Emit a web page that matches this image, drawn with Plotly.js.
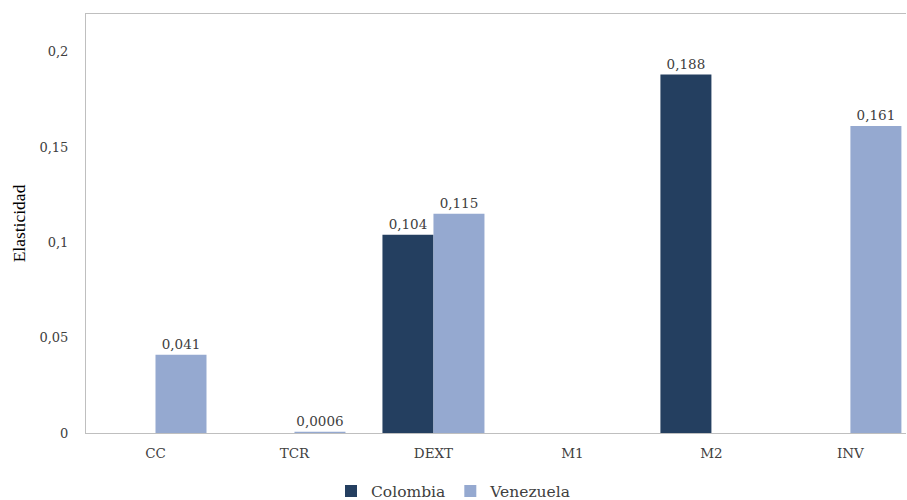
<!DOCTYPE html>
<html><head><meta charset="utf-8">
<script src="https://cdn.plot.ly/plotly-3.0.1.min.js"></script>
<style>html,body{margin:0;padding:0;overflow:hidden;background:#fff}</style>
</head><body>
<div id="chart" style="width:907px;height:500px"></div>
<script>
const categories = ["CC", "TCR", "DEXT", "M1", "M2", "INV"];
const colombia = [0, 0, 0.104, 0, 0.188, 0];
const venezuela = [0.041, 0.0006, 0.115, 0, 0, 0.161];
const seriesNames = ["Colombia", "Venezuela"];

function lbl(arr){ return arr.map(v => v > 0 ? String(v).replace('.', ',') : ''); }
const serif = "'DejaVu Serif', serif";
const times = "'Liberation Serif', serif";

const traces = [
  {type:'bar', name:seriesNames[0], x:categories, y:colombia, text:lbl(colombia),
   textposition:'outside', cliponaxis:false, marker:{color:'#243F60'},
   textfont:{family:serif, size:13.5, color:'#404040'}},
  {type:'bar', name:seriesNames[1], x:categories, y:venezuela, text:lbl(venezuela),
   textposition:'outside', cliponaxis:false, marker:{color:'#95A9D0'},
   textfont:{family:serif, size:13.5, color:'#404040'}}
];
const layout = {
  width:907, height:500,
  margin:{l:86, r:1, t:14, b:67},
  separators:', ',
  barmode:'group', bargap:0.266, bargroupgap:0,
  font:{family:serif, size:13, color:'#404040'},
  paper_bgcolor:'#fff', plot_bgcolor:'#fff',
  xaxis:{type:'category', range:[-0.5, 5.4], showline:true, mirror:true, linecolor:'#BFBFBF', linewidth:1,
         showgrid:false, zeroline:false, ticks:'outside', ticklen:8, tickcolor:'rgba(0,0,0,0)',
         tickfont:{family:serif, size:13.5, color:'#404040'}, automargin:false},
  yaxis:{range:[0, 0.2198], tickvals:[0,0.05,0.1,0.15,0.2], showline:true, linecolor:'#BFBFBF', linewidth:1,
         showgrid:false, zeroline:false, ticks:'outside', ticklen:14, tickcolor:'rgba(0,0,0,0)',
         tickfont:{family:serif, size:13, color:'#404040'}, automargin:false,
         title:{text:'Elasticidad', font:{family:times, size:17.5, color:'#000'}, standoff:9}},
  showlegend:true,
  legend:{orientation:'h', x:0.5, xanchor:'center', xref:'container', y:0.051, yanchor:'top', yref:'container',
          font:{family:serif, size:15.5, color:'#404040'}, tracegroupgap:0}
};
Plotly.newPlot('chart', traces, layout, {displayModeBar:false, staticPlot:true});
</script>
</body></html>
